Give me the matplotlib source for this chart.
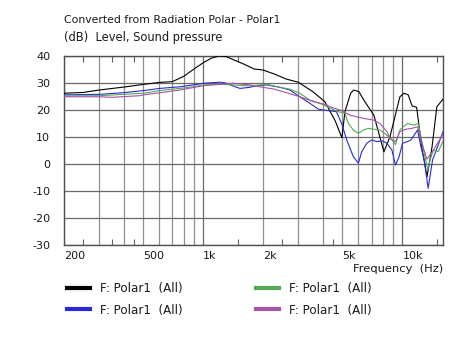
import matplotlib
matplotlib.use("Agg")
import matplotlib.pyplot as plt
from matplotlib.lines import Line2D

# ---------------- data ----------------
freq_black = [200, 250, 300, 400, 480, 600, 700, 800, 900, 1000, 1100, 1200, 1300, 1400,
              1600, 1800, 2000, 2300, 2600, 3000, 3550, 4080, 4300, 4600, 4970, 5150, 5500,
              5700, 6050, 6400, 7000, 7200, 8080, 8660, 9720, 10200, 10700, 11200, 11800,
              12500, 13300, 14100, 14900, 16000]
db_black = [26.2, 26.5, 27.4, 28.5, 29.3, 30.2, 30.5, 32.5, 35.2, 37.5, 39.2, 40, 39.8, 38.8,
            37, 35.2, 34.8, 33.2, 31.5, 30.3, 26.8, 23.1, 20, 16, 9.7, 19.4, 26.2,
            27.4, 26.8, 23.7, 19.4, 18, 4.5, 10, 24.9, 26.2, 25.6, 21.5, 21,
            6.4, -4.7, 6.4, 21.2, 24]

freq_blue = [200, 303, 396, 502, 606, 764, 891, 1000, 1213, 1300, 1410, 1530, 1717, 1818,
             2083, 2430, 2724, 3057, 3430, 3785, 4006, 4323, 4664, 4955, 5257, 5675, 6016,
             6254, 6626, 7025, 7445, 7890, 8360, 8860, 9240, 9630, 10020, 10620, 11040,
             11470, 11920, 12400, 12880, 13480, 14180, 15030, 16000]
db_blue = [25.6, 25.8, 26.4, 27.2, 28, 28.6, 29.3, 29.9, 30.3, 30, 28.9, 28, 28.4, 28.9,
           29.3, 28.4, 27.4, 24.9, 22.5, 20.3, 20, 19.7, 19.4, 15, 8.9, 2.7, 0.3,
           4.6, 7.7, 8.9, 8.3, 8.6, 7.7, 5.2, -0.4, 2.7, 7.7, 8.3, 8.9,
           10.7, 12.6, 6.4, 1.5, -9, 1.5, 6.4, 12]

freq_green = [200, 303, 396, 502, 606, 764, 891, 1000, 1213, 1415, 1717, 2083, 2430, 2724,
              3057, 3430, 3848, 4323, 4700, 5152, 5355, 5675, 6016, 6369, 6747, 7148, 7722,
              8360, 8860, 9240, 9723, 10110, 10620, 11470, 12020, 12500, 12990, 13420,
              13770, 14320, 15170, 16000]
db_green = [25.2, 25.3, 25.8, 26.2, 27.2, 28, 28.6, 29.3, 29.5, 29.3, 28.9, 29.5, 28.4, 27.7,
            26.2, 23.7, 22.5, 20.8, 19.5, 18.8, 15, 12.6, 11.4, 12.6, 13.2, 12.9, 12.6,
            10.7, 8.9, 7.2, 12.6, 13.8, 15, 14.4, 15, 8.9, 2.7, -2.2,
            1.5, 5.2, 4.6, 8.5]

freq_purple = [200, 303, 350, 480, 502, 606, 764, 891, 1000, 1213, 1415, 1717, 1990, 2249,
               2623, 3057, 3572, 4168, 4323, 4864, 5456, 6369, 7148, 7722, 8360, 8661, 9240,
               9723, 10310, 11160, 11920, 12520, 13290, 14180, 15030, 16000]
db_purple = [24.9, 24.9, 24.7, 25.3, 25.6, 26.4, 27.4, 28.3, 29, 29.5, 29.9, 29.3, 28.4, 27.8,
             26.4, 24.9, 23.1, 21.9, 21.2, 20, 18.1, 16.9, 16.3, 15, 12, 9.5, 8.3,
             12, 12.8, 13.2, 13.8, 7.7, 1.8, 4.6, 7.7, 11]

series_labels = ["F: Polar1  (All)"] * 4
series_colors = ["#000000", "#2b2bd4", "#55a855", "#a555a5"]

grid_freqs = [200, 300, 400, 500, 600, 700, 800, 900, 1000, 2000, 3000, 4000, 5000,
              6000, 7000, 8000, 9000, 10000]
label_freqs = {200: "200", 500: "500", 1000: "1k", 2000: "2k", 5000: "5k", 10000: "10k"}
minor_freqs = [250, 350, 450, 1500, 2500, 4500, 15000]
y_ticks = [-30, -20, -10, 0, 10, 20, 30, 40]

# ---------------- figure ----------------
W, H = 466, 341
fig = plt.figure(figsize=(W / 100, H / 100), dpi=100)
fig.patch.set_facecolor("white")
L, R, T, B = 64, 443, 56, 245
ax = fig.add_axes([L / W, 1 - B / H, (R - L) / W, (B - T) / H])

txt_color = "#1a1a1a"
fs = 8.0

lines = []
for fx, fy, c, lab in zip([freq_black, freq_blue, freq_green, freq_purple],
                          [db_black, db_blue, db_green, db_purple],
                          series_colors, series_labels):
    ln, = ax.plot(fx, fy, color=c, lw=0.8, label=lab, zorder=3)
    lines.append(ln)

ax.set_xscale("log")
ax.set_xlim(200, 16000)
ax.set_ylim(-30, 40)

ax.set_xticks(grid_freqs)
ax.set_xticklabels([label_freqs.get(f, "") for f in grid_freqs])
ax.set_xticks(minor_freqs, minor=True)
ax.set_xticklabels([], minor=True)
ax.set_yticks(y_ticks)
ax.set_yticklabels([str(v) for v in y_ticks])

ax.tick_params(axis="x", which="major", length=0, pad=4, labelsize=fs, colors=txt_color)
ax.tick_params(axis="x", which="minor", length=4, direction="in", top=True, bottom=True,
               width=0.8, color="#606060")
ax.tick_params(axis="y", which="major", length=0, pad=10, labelsize=fs, colors=txt_color)
for lab in ax.get_xticklabels():
    lab.set_horizontalalignment("left")

ax.grid(True, which="major", axis="both", lw=0.9, color="#909090", zorder=1)
for f, gl in zip(grid_freqs, ax.get_xgridlines()):
    if f in (1000, 10000):
        gl.set_color("#6a6a6a")
for gl in ax.get_ygridlines():
    gl.set_color("#6a6a6a")

for sp in ax.spines.values():
    sp.set_color("#505050")
    sp.set_linewidth(1.0)

# ---------------- texts ----------------
fig.text(L / W, 1 - 20 / H, "Converted from Radiation Polar - Polar1", fontsize=7.8,
         color=txt_color, ha="left", va="center")
fig.text(L / W, 1 - 38 / H, "(dB)  Level, Sound pressure", fontsize=8.3,
         color=txt_color, ha="left", va="center")
fig.text(R / W, 1 - 269 / H, "Frequency  (Hz)", fontsize=8.25,
         color=txt_color, ha="right", va="center")

# ---------------- legend ----------------
lfs = 8.6
leg_kw = dict(frameon=False, fontsize=lfs, handlelength=1.95, handletextpad=0.8,
              labelspacing=0.72, borderpad=0, borderaxespad=0, loc="upper left")
h1 = [Line2D([], [], color=lines[i].get_color(), lw=3) for i in (0, 1)]
h2 = [Line2D([], [], color=lines[i].get_color(), lw=3) for i in (2, 3)]
leg1 = fig.legend(h1, [series_labels[0], series_labels[1]],
                  bbox_to_anchor=(67 / W, 1 - 282 / H), **leg_kw)
for t in leg1.get_texts():
    t.set_color(txt_color)
leg2 = fig.legend(h2, [series_labels[2], series_labels[3]],
                  bbox_to_anchor=(256 / W, 1 - 282 / H), **leg_kw)
for t in leg2.get_texts():
    t.set_color(txt_color)

fig.savefig("out.png", dpi=100, facecolor="white")
